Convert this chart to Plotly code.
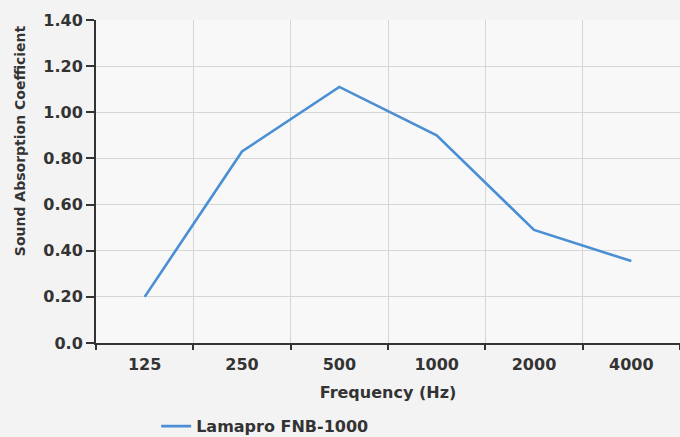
import plotly.graph_objects as go

frequencies = ["125", "250", "500", "1000", "2000", "4000"]
absorption = [0.20, 0.83, 1.11, 0.90, 0.49, 0.355]
y_ticks = [0.0, 0.2, 0.4, 0.6, 0.8, 1.0, 1.2, 1.4]
y_tick_labels = ["0.0", "0.20", "0.40", "0.60", "0.80", "1.00", "1.20", "1.40"]
series_name = "Lamapro FNB-1000"
x_title = "Frequency (Hz)"
y_title = "Sound Absorption Coefficient"

fig = go.Figure()
fig.add_trace(go.Scatter(
    x=frequencies, y=absorption, mode="lines", name=series_name,
    line=dict(color="#4a8fd3", width=2.6),
))

font_family = "'DejaVu Sans', sans-serif"
txt = "#333333"
fig.update_layout(
    width=680, height=437,
    margin=dict(l=96, r=0, t=20, b=94, autoexpand=False),
    paper_bgcolor="#f3f3f3",
    plot_bgcolor="#f8f8f8",
    font=dict(family=font_family, color=txt, size=16),
    showlegend=True,
    legend=dict(orientation="h", x=0.103, y=-0.205, xanchor="left", yanchor="top",
                bgcolor="rgba(0,0,0,0)", font=dict(size=16, family=font_family, weight="bold", color=txt)),
)
fig.update_xaxes(
    type="category", tickson="boundaries", range=[-0.5, 5.5],
    showline=True, linecolor=txt, linewidth=2,
    ticks="outside", ticklen=5, tickcolor=txt, tickwidth=2,
    showgrid=True, gridcolor="#d6d6d6", gridwidth=1,
    tickfont=dict(size=16, weight="bold", color=txt),
    ticklabelstandoff=6,
    title=dict(text=x_title, font=dict(size=16, weight="bold", color=txt), standoff=14),
)
fig.update_yaxes(
    range=[0, 1.4], tickvals=y_ticks, ticktext=y_tick_labels,
    showline=True, linecolor=txt, linewidth=2,
    ticks="outside", ticklen=8, tickcolor=txt, tickwidth=2,
    showgrid=True, gridcolor="#d6d6d6", gridwidth=1, zeroline=False,
    tickfont=dict(size=16, weight="bold", color=txt),
)
fig.add_annotation(
    text=y_title, textangle=-90, xref="paper", yref="paper",
    x=-0.130, y=0.625, xanchor="center", yanchor="middle", showarrow=False,
    font=dict(size=14, weight="bold", color=txt, family=font_family),
)

fig.write_html("out.html", config={"displayModeBar": False},
               post_script="document.body.style.margin='0';document.body.style.background='#f3f3f3';")
